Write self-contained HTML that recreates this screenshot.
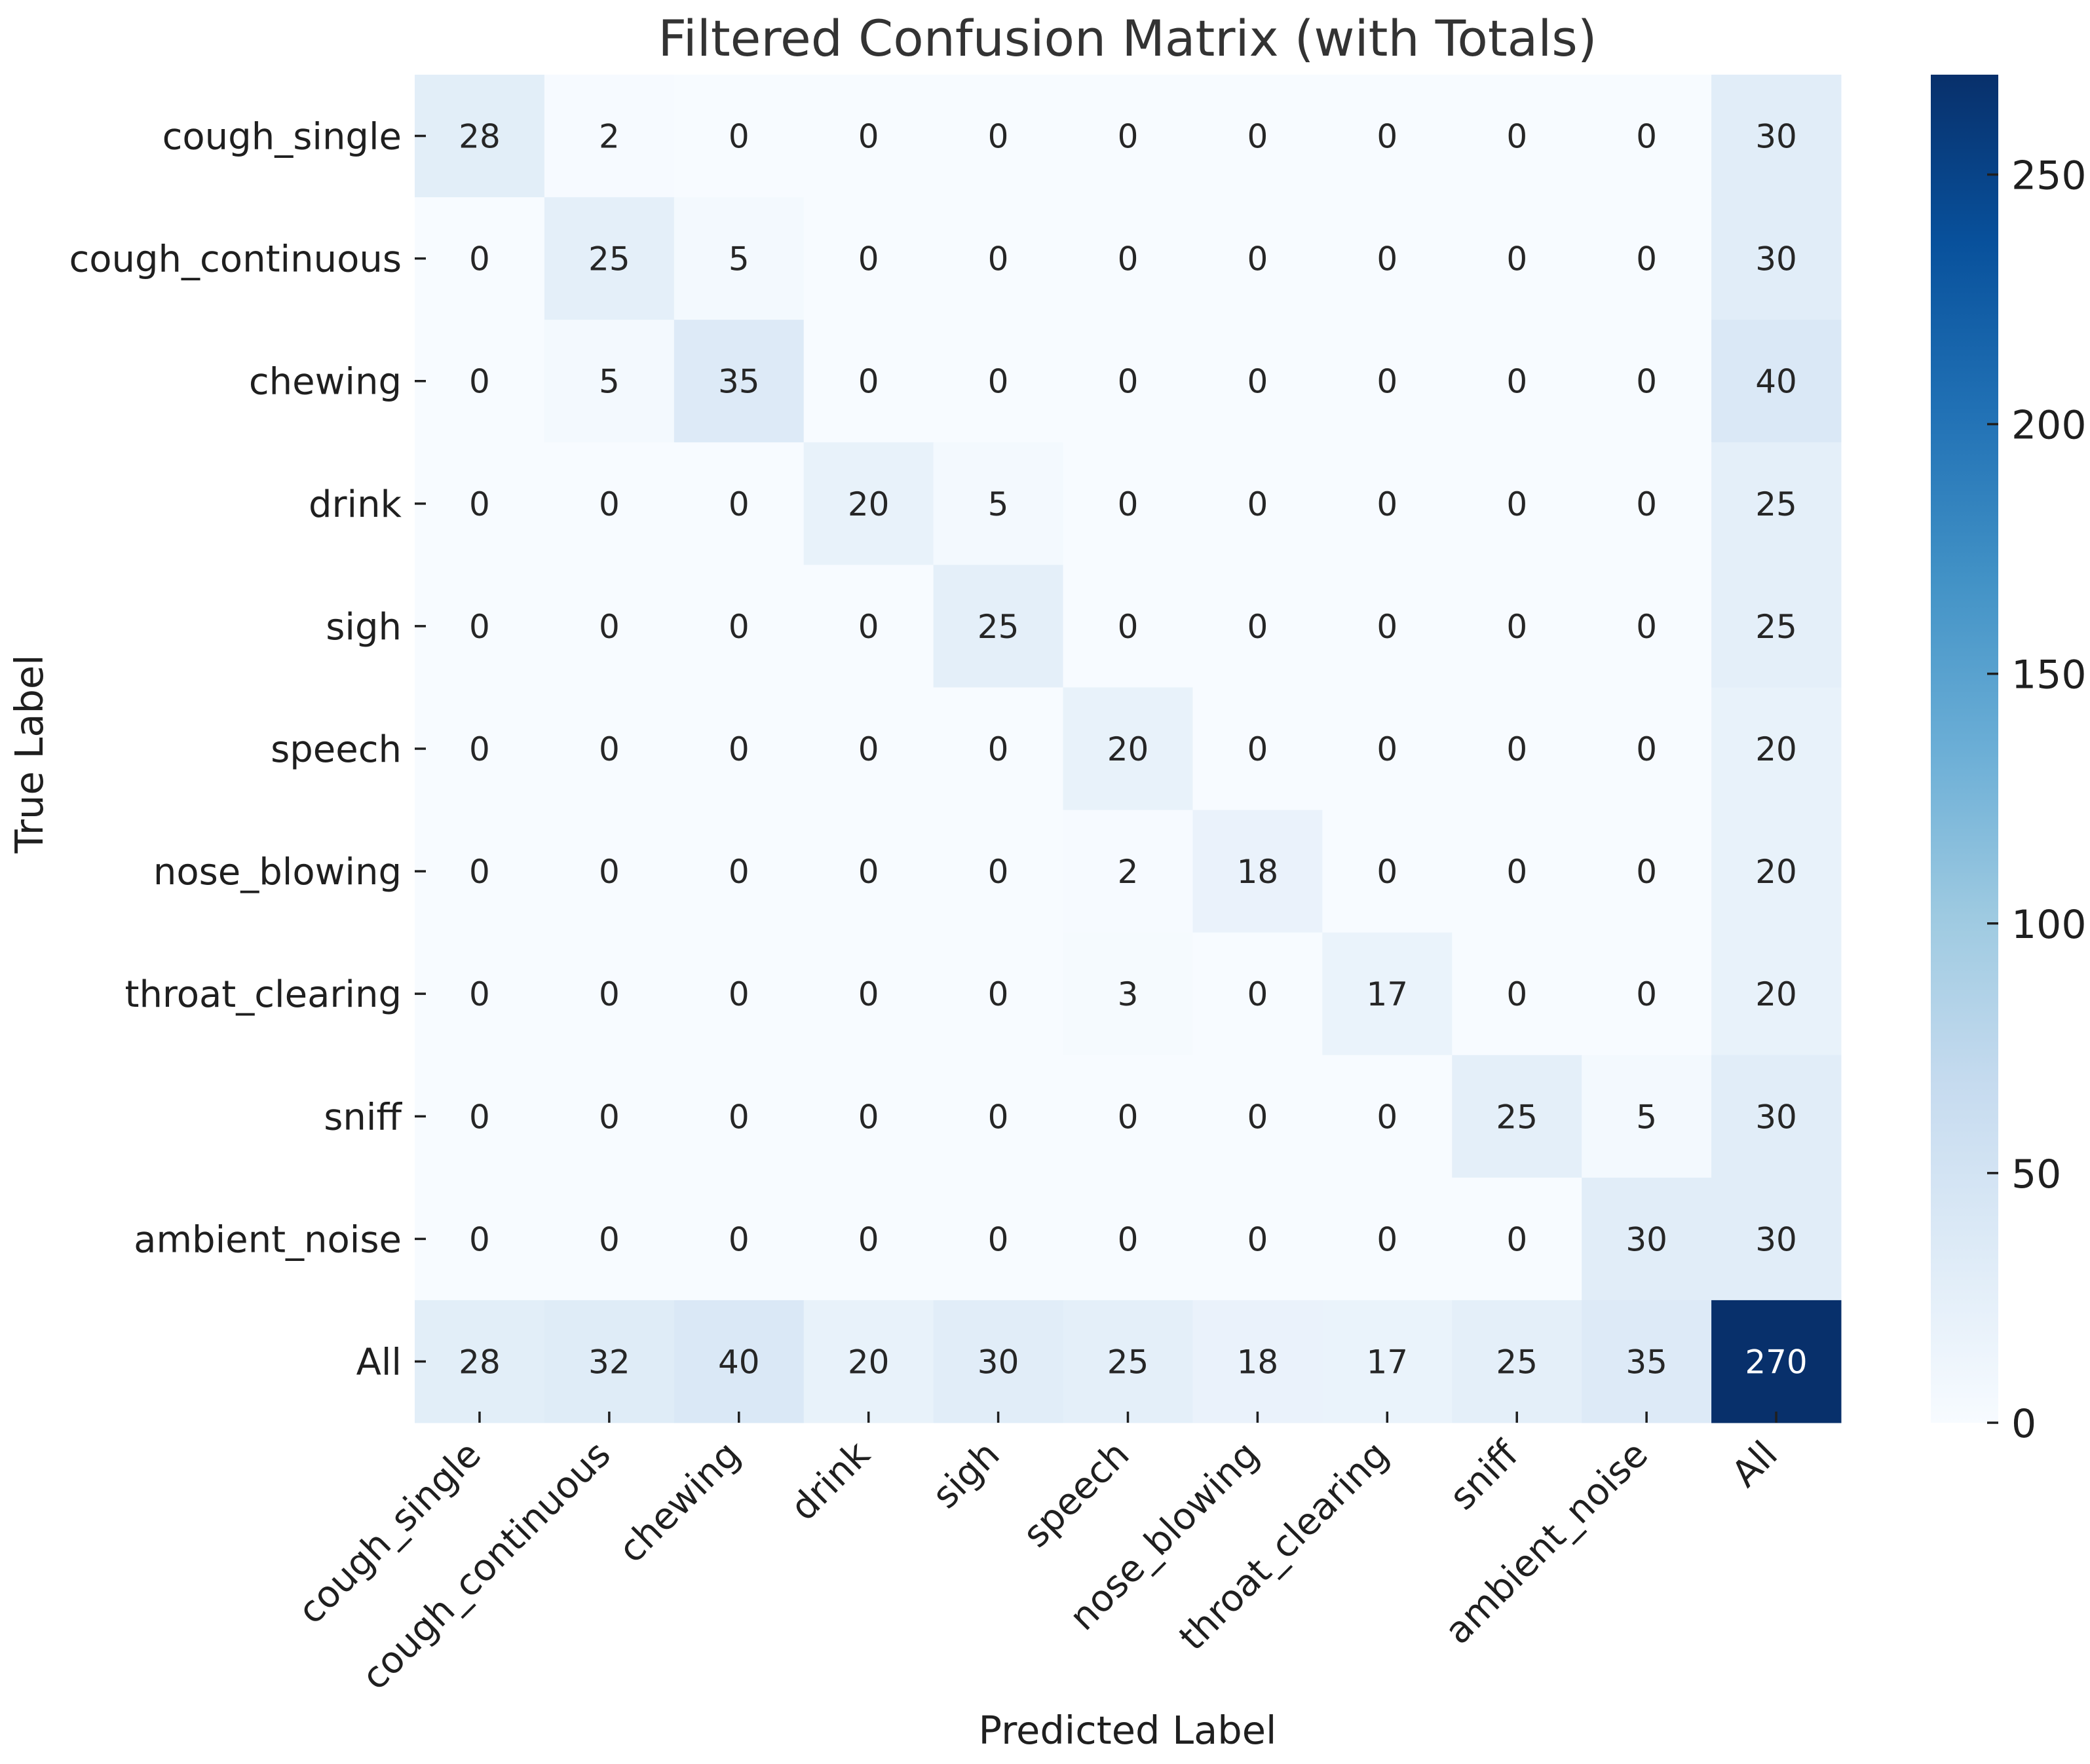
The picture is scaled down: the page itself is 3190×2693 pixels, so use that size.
<!DOCTYPE html>
<html><head><meta charset="utf-8">
<style>html,body{margin:0;padding:0;background:#fff}svg{display:block}text{font-family:"DejaVu Sans","Liberation Sans",sans-serif;fill:#1f1f1f}</style>
</head><body>
<svg id="chart" width="3190" height="2693" viewBox="0 0 3190 2693" xmlns="http://www.w3.org/2000/svg">
<text x="1721" y="85" font-size="76" text-anchor="middle" style="fill:#333">Filtered Confusion Matrix (with Totals)</text>
<g id="cells"></g>
<g id="yticks"></g>
<g id="xticks"></g>
<defs><linearGradient id="cbgrad" x1="0" y1="1" x2="0" y2="0"></linearGradient></defs>
<rect x="2947" y="114" width="103" height="2058" fill="url(#cbgrad)"/>
<g id="cbticks"></g>
<text x="1721" y="2662" font-size="59" text-anchor="middle">Predicted Label</text>
<text x="0" y="0" font-size="59" text-anchor="middle" transform="translate(65,1151) rotate(-90)">True Label</text>
</svg>
<script>
const rowLabels = ["cough_single","cough_continuous","chewing","drink","sigh","speech","nose_blowing","throat_clearing","sniff","ambient_noise","All"];
const colLabels = ["cough_single","cough_continuous","chewing","drink","sigh","speech","nose_blowing","throat_clearing","sniff","ambient_noise","All"];
const matrixValues = [
[28,2,0,0,0,0,0,0,0,0,30],
[0,25,5,0,0,0,0,0,0,0,30],
[0,5,35,0,0,0,0,0,0,0,40],
[0,0,0,20,5,0,0,0,0,0,25],
[0,0,0,0,25,0,0,0,0,0,25],
[0,0,0,0,0,20,0,0,0,0,20],
[0,0,0,0,0,2,18,0,0,0,20],
[0,0,0,0,0,3,0,17,0,0,20],
[0,0,0,0,0,0,0,0,25,5,30],
[0,0,0,0,0,0,0,0,0,30,30],
[28,32,40,20,30,25,18,17,25,35,270]
];
const colorbarTicks = [0,50,100,150,200,250];
const vmin = 0, vmax = 270;

const NS = "http://www.w3.org/2000/svg";
const L = 633, T = 114, R = 2810, B = 2172;
const cw = (R - L) / colLabels.length, ch = (B - T) / rowLabels.length;
const xPos = i => L + i * cw;
const yPos = i => T + i * ch;
const cbY = v => B - (v - vmin) / (vmax - vmin) * (B - T);
const stops = ["#f7fbff","#deebf7","#c6dbef","#9ecae1","#6baed6","#4292c6","#2171b5","#08519c","#08306b"];
function hex(h){return [1,3,5].map(k=>parseInt(h.substr(k,2),16));}
function color(v){
  let t = Math.max(0, Math.min(1, (v - vmin) / (vmax - vmin))) * (stops.length - 1);
  let i = Math.min(Math.floor(t), stops.length - 2), f = t - i;
  let a = hex(stops[i]), b = hex(stops[i+1]);
  return "rgb(" + a.map((c,k)=>Math.round(c + (b[k]-c)*f)).join(",") + ")";
}
function lum(v){
  let c = color(v).match(/\d+/g).map(Number);
  return 0.299*c[0]+0.587*c[1]+0.114*c[2];
}
function mk(tag, attrs, parent){
  const e = document.createElementNS(NS, tag);
  for (const k in attrs) e.setAttribute(k, attrs[k]);
  parent.appendChild(e);
  return e;
}
const cells = document.getElementById("cells");
matrixValues.forEach((row, r) => row.forEach((v, c) => {
  const rect = mk("rect", {x: xPos(c), y: yPos(r), width: cw + 0.5, height: ch + 0.5, fill: color(v)}, cells);
  
  
  const t = mk("text", {x: xPos(c) + cw/2, y: yPos(r) + ch/2 + 18, "font-size": 50, "text-anchor": "middle"}, cells);
  
  
  t.style.fill = lum(v) < 128 ? "#ffffff" : "#262626";
  t.textContent = v;
}));
const yt = document.getElementById("yticks");
rowLabels.forEach((lab, i) => {
  const cy = yPos(i) + ch/2;
  const tk = mk("line", {x1: L, x2: L + 17, y1: cy, y2: cy, stroke: "#1f1f1f", "stroke-width": 3.5}, yt);
  
  
  const t = mk("text", {x: L - 20, y: cy + 20, "font-size": 56, "text-anchor": "end"}, yt);
  
  
  t.textContent = lab;
});
const xt = document.getElementById("xticks");
colLabels.forEach((lab, i) => {
  const cx = xPos(i) + cw/2;
  const tk = mk("line", {x1: cx, x2: cx, y1: B - 17, y2: B, stroke: "#1f1f1f", "stroke-width": 3.5}, xt);
  
  
  const t = mk("text", {x: 0, y: 0, "font-size": 56, "text-anchor": "end", transform: "translate(" + (cx + 5) + "," + (B + 52) + ") rotate(-45)"}, xt);
  
  
  t.textContent = lab;
});
const grad = document.getElementById("cbgrad");
stops.forEach((s, i) => mk("stop", {offset: (i/(stops.length-1)*100) + "%", "stop-color": s}, grad));
const cb = document.getElementById("cbticks");
colorbarTicks.forEach(v => {
  const y = cbY(v);
  const tk = mk("line", {x1: 3033, x2: 3050, y1: y, y2: y, stroke: "#1f1f1f", "stroke-width": 3.5}, cb);
  
  
  const t = mk("text", {x: 3070, y: y + 22, "font-size": 60}, cb);
  
  
  t.textContent = v;
});
</script>
</body></html>
